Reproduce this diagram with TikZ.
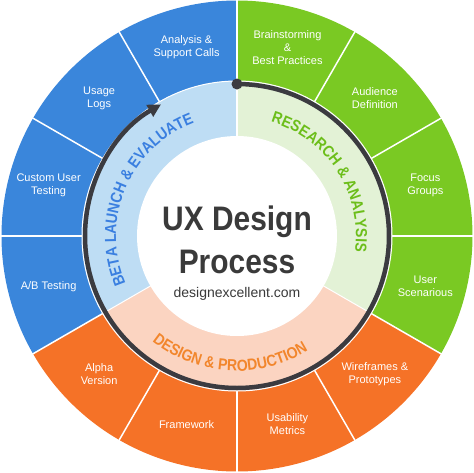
\documentclass[tikz,border=0pt]{standalone}
\usepackage{fontspec}
\setmainfont{Liberation Sans}
\newfontfamily\narrowfont{Liberation Sans}[FakeStretch=0.88]
\usetikzlibrary{arrows.meta,decorations.text}

\definecolor{uxblue}{HTML}{3A86DB}
\definecolor{uxgreen}{HTML}{7AC923}
\definecolor{uxorange}{HTML}{F57227}
\definecolor{lightblue}{HTML}{BEDDF4}
\definecolor{lightgreen}{HTML}{E3F2D6}
\definecolor{peach}{HTML}{FBD4C1}
\definecolor{betablue}{HTML}{3A7FE0}
\definecolor{resgreen}{HTML}{6CBE1A}
\definecolor{desorange}{HTML}{F2862C}
\definecolor{ringdark}{HTML}{3B3B40}
\definecolor{titlegray}{HTML}{3A3A3A}

\tikzset{
  seglabel/.style={text=white, align=center, inner sep=0pt, font=\fontsize{11}{13}\selectfont},
  title/.style={text=titlegray, inner sep=0pt, anchor=base, font=\narrowfont\bfseries\fontsize{34}{34}\selectfont},
  siteurl/.style={text=titlegray, inner sep=0pt, anchor=base, font=\fontsize{14}{14}\selectfont}
}

\begin{document}
\begin{tikzpicture}
    \useasboundingbox (-237pt,-236pt) rectangle (237pt,236pt);
    % outer segments
    \foreach \a/\col in {90/uxgreen,60/uxgreen,30/uxgreen,0/uxgreen,-30/uxorange,-60/uxorange,-90/uxorange,-120/uxorange,-150/uxblue,-180/uxblue,-210/uxblue,-240/uxblue}
      \fill[\col] (\a:155pt) arc[start angle=\a, end angle={\a-30}, radius=155pt] -- ({\a-30}:235.5pt) arc[start angle={\a-30}, end angle=\a, radius=235.5pt] -- cycle;
    \foreach \a in {0,30,...,330}
      \draw[white, line width=1.5pt] (\a:154pt) -- (\a:237pt);
    % inner ring
    \fill[lightblue] (0,0) -- (90:155pt) arc[start angle=90, end angle=210, radius=155pt] -- cycle;
    \fill[lightgreen] (0,0) -- (-30:155pt) arc[start angle=-30, end angle=90, radius=155pt] -- cycle;
    \fill[peach] (0,0) -- (210:155pt) arc[start angle=210, end angle=330, radius=155pt] -- cycle;
    \foreach \a in {90,210,330}
      \draw[white, line width=1pt] (0,0) -- (\a:153pt);
    \draw[white, line width=1pt] (0,0) circle[radius=155pt];
    \fill[white] (0,0) circle[radius=100pt];
    % cycle arrow
    \draw[ringdark, line width=4.5pt, -{Triangle[length=13pt,width=13pt]}] (90:152pt) arc[start angle=90, end angle=-240, radius=152pt];
    \fill[ringdark] (90:152pt) circle[radius=5.5pt];
    % ring texts
    \path[decorate, decoration={text along path, text align=center,
      text={|\narrowfont\bfseries\fontsize{16}{16}\selectfont\color{betablue}|BETA LAUNCH {\&} EVALUATE}}]
      (217:121pt) arc[start angle=217, end angle=97, radius=121pt];
    \path[decorate, decoration={text along path, text align=center,
      text={|\narrowfont\bfseries\fontsize{16}{16}\selectfont\color{resgreen}|RESEARCH {\&} ANALYSIS}}]
      (93:119pt) arc[start angle=93, end angle=-27, radius=119pt];
    \path[decorate, decoration={text along path, text align=center,
      text={|\narrowfont\bfseries\fontsize{16}{16}\selectfont\color{desorange}|DESIGN {\&} PRODUCTION}}]
      (206.5:135pt) arc[start angle=206.5, end angle=326.5, radius=135pt];
    % centre
    \node[title] (ux) at (0,6pt) {UX Design};
    \node[title] (proc) at (0,-37pt) {Process};
    \node[siteurl] (url) at (0,-61pt) {designexcellent.com};
    % segment labels
    \foreach \a/\lab [count=\i] in {75/{Brainstorming\\\&\\Best Practices}, 45/{Audience\\Definition}, 15/{Focus\\Groups}, -15/{User\\Scenarious}, -45/{Wireframes \&\\Prototypes}, -75/{Usability\\Metrics}, -105/{Framework}, -135/{Alpha\\Version}, -165/{A/B Testing}, 165/{Custom User\\Testing}, 135/{Usage\\Logs}, 105/{Analysis \&\\Support Calls}}
      \node[seglabel] (seg\i) at (\a:195pt) {\lab};
\end{tikzpicture}
\end{document}
